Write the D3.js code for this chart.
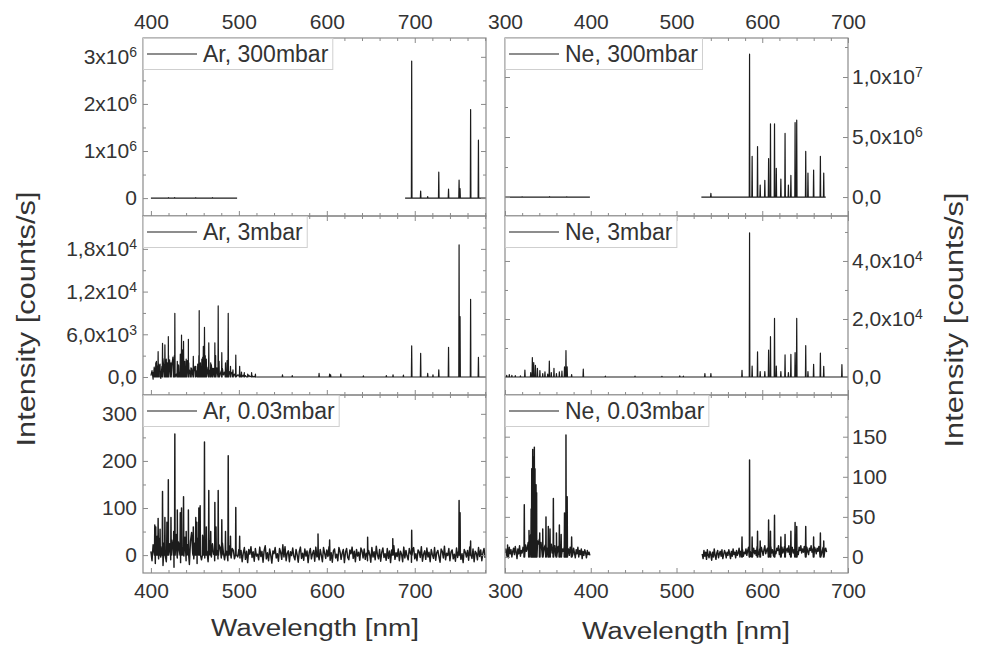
<!DOCTYPE html>
<html>
<head>
<meta charset="utf-8">
<script src="https://cdn.jsdelivr.net/npm/d3@7"></script>
<style>
body { margin: 0; background: #fff; }
text { font-family: "Liberation Sans", Arial, sans-serif; fill: #333; }
</style>
</head>
<body>
<svg id="chart" width="981" height="647"></svg>
<script>
// ---- data ----
var arRange = [391, 781], neRange = [300, 700];
var arXTicks = [400, 500, 600, 700], neXTicks = [300, 400, 500, 600, 700];

// Ar, 300 mbar  [nm, counts/s]
var ar300Segments = [[400, 498], [689, 781]];
var ar300Peaks = [[420, 1e4], [427, 1.2e4], [451, 8e3], [470, 1e4],
    [696.5, 2.91e6], [706.7, 0.15e6], [714.7, 0.03e6], [727.3, 0.55e6], [738.4, 0.19e6],
    [750.4, 0.38e6], [751.5, 0.2e6], [763.5, 1.88e6], [772.4, 1.23e6]];
var ar300YTicks = [0, 1e6, 2e6, 3e6];
var ar300YLabels = ["0", "1x10^6", "2x10^6", "3x10^6"];

// Ar, 3 mbar
var ar3Segments = [[400, 520], [520, 781]];
var ar3Peaks = [[402.5, 600], [404.4, 1200], [405.5, 2000], [407.2, 1500], [408.2, 3560], [410.4, 1800],
    [413.2, 4730], [415.9, 4500], [417.5, 2500], [418.2, 2000], [419.8, 5670], [420.1, 3000],
    [422.8, 2000], [425.9, 2500], [426.6, 3000], [427.2, 8950], [430, 2200], [431.5, 1600],
    [433.4, 3200], [434.8, 5900], [435.5, 2600], [436.2, 3800], [437.1, 5000], [438.5, 2200],
    [440.1, 2500], [442.6, 5300], [443, 2000], [445.5, 1300], [448.2, 2900], [451, 1500],
    [453.2, 1800], [454.5, 3000], [454.9, 9320], [456.3, 2000], [457.9, 2500], [458.9, 2800],
    [459.6, 4300], [460.9, 6980], [461.8, 3000], [463, 2500], [465.8, 4800], [468, 2000],
    [470.2, 1200], [472.7, 4800], [473.6, 3000], [476.5, 9980], [477.5, 2200], [480.6, 3420],
    [484.8, 2000], [486.6, 2300], [487.9, 8950], [490.5, 1500], [493.3, 1000], [496.5, 3090],
    [500.9, 1500], [503, 700], [506.2, 600], [510, 400], [514.5, 600], [518.8, 400],
    [549.6, 300], [560.7, 200], [591.2, 500], [603.2, 400], [604.3, 300], [615.9, 400],
    [641.6, 150], [667.7, 200], [675.3, 300], [687.1, 250],
    [696.5, 4360], [706.7, 3330], [714.7, 500], [720.7, 300], [727.3, 1000], [738.4, 4170],
    [750.4, 18550], [751.5, 8470], [763.5, 10900], [772.4, 2770]];
var ar3NoiseStart = 400, ar3NoiseStep = 1.25;
var ar3Noise = [200, 900, -300, 1400, 600, 2200, 300, 1800, 800, -200, 1500, 2600, 700, 1200, 300,
    2000, 1000, 2400, 500, 1600, 2800, 900, 1300, 400, 2100, 1700, 600, 2500, 1100, 300, 1900, 800,
    1400, 2300, 600, 1000, 400,
    1200, 300, 800, 1500, 200, 900, 1300, 500, 1800, 700, 1100, 400, 1600, 900, 300, 1400, 600,
    1000, 1700, 500, 1200, 800, 300, 1300, 600, 1000, 400, 900, 1200, 300, 700, 1000, 200, 600,
    800, 300, 500, 700, 200, 400, 600, 100, 300, 200,
    150, 300, 50, 250, 100, 200, 0, 150, 250, 50, 100, 200, 0, 100, 50, 0];
var ar3YTicks = [0, 6000, 12000, 18000];
var ar3YLabels = ["0,0", "6,0x10^3", "1,2x10^4", "1,8x10^4"];

// Ar, 0.03 mbar
var ar003Segments = [[400, 781]];
var ar003Peaks = [[404.4, 64], [405.5, 60], [407.2, 40], [408.2, 78], [410.4, 55], [413.2, 135],
    [415.9, 80], [418.2, 70], [419.8, 160], [422.8, 80], [425.9, 50], [427.2, 257], [430, 96],
    [433.4, 90], [434.8, 100], [437.1, 124], [440.1, 50], [442.6, 96], [448.2, 60], [451, 80],
    [452.2, 70], [454.5, 100], [456, 105], [458.9, 40], [460.9, 240], [463, 60], [465.8, 137],
    [468, 50], [472.7, 112], [474, 60], [476.5, 137], [480.6, 75], [484.8, 50], [487.9, 211],
    [490.5, 40], [496.5, 101], [500.9, 40], [590, 45], [603.2, 32], [646.4, 38], [675, 35],
    [696.5, 53], [750.4, 116], [751.5, 90], [763.5, 30]];
var ar003NoiseStart = 400, ar003NoiseStep = 1.25;
var ar003Noise = [8, -12, 22, 4, -18, 30, 12, -8, 36, -4, 18, -22, 26, 10, -14, 40, 2, 24, -10, 32,
    14, -26, 20, 44, -6, 28, 8, -16, 34, 16, -2, 38, -12, 22, 6, -20, 30, 48, 4, -8,
    26, 12, -18, 36, 0, 20, -10, 42, 14, -6, 28, 8, -14, 32, 18, -4, 24, 2, -12, 30,
    10, -8, 22, 16, -6, 26, 4, -10, 18, 8, -12, 20, 2, -6, 14, 10, -8, 16, 0, -4, 12,
    -6, 10, -14, 4, 16, -9, 8, -16, 12, 2, 18, -5, 7, -13, 14, -2,
    2, -10, 17, -3, 8, -15, 10, 20, -8, 5, -12, 13, 0, -17, 9, 3,
    16, -6, 3, -13, 14, 6, -9, 22, -4, 18, -12, 4, 9, -14, 7, -1,
    15, -3, -10, 12, 1, -15, 8, 17, -7, 4, -11, 13, -2, 9, -16, 5,
    14, -8, 3, 10, -13, 17, -4, 24, -10, 12, 0, -14, 16, 4, -7, 11,
    -3, 18, -11, 5, -15, 9, 13, -6, 2, -12, 16, 8, -9, 4, 12, -16,
    6, 14, -5, -10, 11, 3, 17, -7, 8, -14, 12, -2, 6, -11, 15, 9,
    -6, 13, -9, 4, -12, 10, 2, -15, 16, -4, 7, -10, 19, 1, -8, 12,
    -13, 6, 15, -5, 3, -11, 14, -7, 9, -16, 11, 0, 20, -9, 5, -3,
    13, -12, 8, 2, -14, 17, -6, 10, -2, -10, 14, 4, -15, 9, 16, -8,
    3, -12, 11, 7, -5, 18, -13, 2, 9, -9, 15, -4, 6, -14, 12, 1,
    -7, 16, -11, 5, 10, -3, -15, 13, 8, -6, 19, -10, 4, -1, 14, -12,
    7, 11, -8, 2, -13, 15, -5, 9, 21, -9, 3, -16, 12, 6, -4, 10,
    -11, 17, 0, -7, 13, -14, 8, 4, -10, 16, -3, 11, -12, 5, 14, -6];
var ar003YTicks = [0, 100, 200, 300];
var ar003YLabels = ["0", "100", "200", "300"];

// Ne, 300 mbar
var ne300Segments = [[300, 399], [529, 674]];
var ne300Peaks = [[320, 2e4], [352, 3e4], [372, 2e4], [540.1, 0.3e6],
    [585.2, 11.9e6], [588.2, 3.4e6], [594.5, 4.2e6], [597.6, 1.0e6], [603.0, 1.4e6], [607.4, 3.2e6],
    [609.6, 6.1e6], [614.3, 6.1e6], [616.4, 2.4e6], [621.7, 1.5e6], [626.6, 5.3e6], [630.5, 1.0e6],
    [633.4, 1.8e6], [638.3, 6.2e6], [640.2, 6.4e6], [650.7, 3.8e6], [653.3, 2.0e6], [659.9, 2.25e6],
    [667.8, 3.4e6], [671.7, 2.0e6]];
var ne300YTicks = [0, 5e6, 1e7];
var ne300YLabels = ["0,0", "5,0x10^6", "1,0x10^7"];

// Ne, 3 mbar
var ne3Segments = [[300, 700]];
var ne3Peaks = [[302, 600], [305, 800], [308, 600], [312, 500], [318, 400], [323.2, 2400], [330, 1500],
    [331.9, 6700], [333.5, 5000], [335.5, 4000], [337.8, 3000], [340.7, 2200], [344, 1200],
    [346.6, 1800], [349.8, 1000], [351.7, 5500], [354, 1500], [357.1, 3000], [360, 1200],
    [363.4, 1800], [366.4, 2000], [369.4, 3500], [371.1, 9100], [372.5, 3500], [377.7, 800],
    [391.3, 2700], [417, 300], [451.6, 300], [483, 250], [503.8, 400], [508, 300], [533.1, 1200],
    [540.1, 1200], [576.4, 2300], [585.2, 49700], [588.2, 3800], [594.5, 8700], [597.6, 1900],
    [603, 1900], [607.4, 9300], [609.6, 13900], [614.3, 20200], [616.4, 3800], [621.7, 1900],
    [626.6, 7600], [630.5, 1500], [633.4, 7800], [638.3, 8400], [640.2, 20200], [650.7, 10800],
    [653.3, 1900], [659.9, 4400], [667.8, 8200], [671.7, 3700], [692.9, 4250]];
var ne3YTicks = [0, 2e4, 4e4];
var ne3YLabels = ["0,0", "2,0x10^4", "4,0x10^4"];

// Ne, 0.03 mbar
var ne003Segments = [[300, 399], [530, 675]];
var ne003Peaks = [[303, 15], [322.5, 65], [328, 33], [330.5, 60], [331.2, 110], [332.3, 134],
    [333, 125], [333.5, 120], [334.2, 137], [335, 110], [335.5, 84], [336.2, 90], [336.9, 80],
    [340.5, 30], [344, 35], [347.8, 50], [350.5, 38], [352.5, 35], [356.4, 73], [360, 30],
    [363.4, 40], [365.5, 28], [369.4, 55], [371.1, 152], [372.5, 75], [377.7, 25],
    [576.4, 25], [585.2, 121], [588.2, 25], [594.5, 32], [597.6, 20], [607.4, 46], [609.6, 32],
    [614.3, 52], [621.7, 25], [626.6, 28], [633.4, 32], [638.3, 43], [640.2, 38], [650.7, 38],
    [659.9, 25], [667.8, 30], [671.7, 20]];
var ne003NoiseStep = 1;
var ne003NoiseA = [5, 10, 2, 8, -1, 12, 4, 9, 0, 7,
    11, 3, 13, 6, -2, 10, 4, 14, 1, 8,
    5, 12, 9, 3, 15, 7, 11, 18, 14, 22,
    28, 35, 30, 40, 32, 26, 34, 24, 20, 16,
    22, 12, 18, 8, 14, 6, 12, 15, 4, 11,
    7, 13, 3, 10, 16, 5, 12, 8, 14, 2,
    11, 6, 13, 4, 9, 15, 3, 10, 7, 12,
    14, 8, 16, 5, 10, 2, 12, 7, 9, 3,
    11, 5, -1, 9, 4, 12, 0, 8, 3, 10,
    -2, 7, 2, 9, 5, -1, 8, 3, 6, 2];
var ne003NoiseB = [4, -2, 8, 1, 6, -3, 9, 2, -1, 7,
    3, -4, 6, 0, 10, 2, -3, 5, 8, -1,
    4, 7, 1, 9, -2, 3, 8, 5, -1, 6,
    2, 9, 4, -2, 7, 1, 10, 3, 6, -1,
    8, 2, 5, 11, 0, 7, 3, 9, 1, 6,
    4, 10, 2, 8, 12, 3, 7, 1, 9, 5,
    11, 4, 8, 2, 13, 6, 3, 10, 5, 12,
    7, 2, 9, 14, 4, 8, 11, 3, 10, 6,
    13, 5, 9, 2, 12, 7, 4, 11, 8, 14,
    3, 10, 6, 12, 5, 9, 13, 4, 8, 11,
    6, 14, 3, 10, 7, 12, 5, 9, 13, 4,
    11, 7, 3, 12, 8, 14, 5, 10, 6, 13,
    4, 9, 12, 7, 3, 11, 8, 14, 6, 10,
    5, 12, 9, 4, 11, 7, 13, 6, 10, 3,
    8, 12, 5, 9, 11, 6];
var ne003YTicks = [0, 50, 100, 150];
var ne003YLabels = ["0", "50", "100", "150"];

// ---- layout ----
var svg = d3.select("#chart");
var cols = [
    {x0: 143, x1: 486, domain: arRange, ticks: arXTicks},
    {x0: 505, x1: 848, domain: neRange, ticks: neXTicks}
];
var rows = [[38, 216], [216, 395], [395, 573]];
var frameColor = "#8a8a8a", lineColor = "#1c1c1c";

var panels = [
    {col: 0, row: 0, name: "Ar, 300mbar", segs: ar300Segments, peaks: ar300Peaks, yDom: [-0.38e6, 3.4e6], yTicks: ar300YTicks, yLabels: ar300YLabels},
    {col: 0, row: 1, name: "Ar, 3mbar", segs: ar3Segments, peaks: ar3Peaks, yDom: [-2530, 22620], yTicks: ar3YTicks, yLabels: ar3YLabels,
        noise: [{start: ar3NoiseStart, step: ar3NoiseStep, values: ar3Noise}]},
    {col: 0, row: 2, name: "Ar, 0.03mbar", segs: ar003Segments, peaks: ar003Peaks, yDom: [-38, 340], yTicks: ar003YTicks, yLabels: ar003YLabels,
        noise: [{start: ar003NoiseStart, step: ar003NoiseStep, values: ar003Noise}], width: 1.45},
    {col: 1, row: 0, name: "Ne, 300mbar", segs: ne300Segments, peaks: ne300Peaks, yDom: [-1.58e6, 13.25e6], yTicks: ne300YTicks, yLabels: ne300YLabels},
    {col: 1, row: 1, name: "Ne, 3mbar", segs: ne3Segments, peaks: ne3Peaks, yDom: [-6200, 55500], yTicks: ne3YTicks, yLabels: ne3YLabels},
    {col: 1, row: 2, name: "Ne, 0.03mbar", segs: ne003Segments, peaks: ne003Peaks, yDom: [-20, 202], yTicks: ne003YTicks, yLabels: ne003YLabels,
        noise: [{start: 300, step: ne003NoiseStep, values: ne003NoiseA}, {start: 530, step: ne003NoiseStep, values: ne003NoiseB}], width: 1.45}
];

// one segment of a spectrum: baseline (flat or noisy) plus narrow line peaks
function segPoints(seg, peaks, noise) {
    var hw = 0.35, pts = [];
    var nz = noise && noise.filter(n => n.start >= seg[0] - 1 && n.start < seg[1])[0];
    if (nz) {
        nz.values.forEach(function (v, i) {
            var xv = nz.start + i * nz.step;
            if (xv >= seg[0] && xv <= seg[1]) pts.push([xv, v]);
        });
    } else {
        pts.push([seg[0], 0], [seg[1], 0]);
    }
    peaks.forEach(function (p) {
        if (p[0] > seg[0] && p[0] < seg[1])
            pts.push([p[0] - hw, 0], [p[0], p[1]], [p[0] + hw, 0]);
    });
    pts.sort((a, b) => a[0] - b[0]);
    return pts;
}

function supLabels(sel) {
    sel.selectAll("text").each(function () {
        var t = d3.select(this), s = t.text();
        if (s.indexOf("^") < 0) return;
        var parts = s.split("^");
        t.text(null);
        t.append("tspan").text(parts[0]);
        t.append("tspan").attr("dy", "-0.5em").attr("font-size", "14px").text(parts[1]);
    });
}

function styleAxis(g) {
    g.select(".domain").remove();
    g.selectAll("line").attr("stroke", frameColor);
    g.selectAll("text").attr("fill", "#383838").attr("font-size", 21)
        .attr("font-family", '"Liberation Sans", Arial, sans-serif');
}

panels.forEach(function (p, k) {
    var c = cols[p.col], r = rows[p.row];
    var x = d3.scaleLinear().domain(c.domain).range([c.x0, c.x1]);
    var y = d3.scaleLinear().domain(p.yDom).range([r[1], r[0]]);
    var g = svg.append("g");

    g.append("clipPath").attr("id", "clip" + k)
        .append("rect").attr("x", c.x0).attr("y", r[0]).attr("width", c.x1 - c.x0).attr("height", r[1] - r[0]);

    // spectrum
    var line = d3.line().x(d => x(d[0])).y(d => y(d[1]));
    g.append("g").attr("clip-path", "url(#clip" + k + ")")
        .selectAll("path").data(p.segs.map(s => segPoints(s, p.peaks, p.noise)))
        .enter().append("path")
        .attr("d", line)
        .attr("fill", "none").attr("stroke", lineColor).attr("stroke-width", p.width || 1.2)
        .attr("stroke-linejoin", "round");

    // frame
    g.append("rect").attr("x", c.x0).attr("y", r[0]).attr("width", c.x1 - c.x0).attr("height", r[1] - r[0])
        .attr("fill", "none").attr("stroke", frameColor).attr("stroke-width", 1.2);

    // x axes (ticks inward)
    var xMinor = d3.range(Math.ceil(c.domain[0] / 20) * 20, c.domain[1], 20).filter(v => v % 100 != 0);
    var fmtX = d => String(d);
    g.append("g").attr("transform", "translate(0," + r[1] + ")")
        .call(d3.axisBottom(x).tickValues(c.ticks).tickSize(-5).tickPadding(10)
            .tickFormat(p.row == 2 ? fmtX : () => "")).call(styleAxis);
    g.append("g").attr("transform", "translate(0," + r[1] + ")")
        .call(d3.axisBottom(x).tickValues(xMinor).tickSize(-3).tickFormat("")).call(styleAxis);
    g.append("g").attr("transform", "translate(0," + r[0] + ")")
        .call(d3.axisTop(x).tickValues(c.ticks).tickSize(-5).tickPadding(9)
            .tickFormat(p.row == 0 ? fmtX : () => "")).call(styleAxis);
    g.append("g").attr("transform", "translate(0," + r[0] + ")")
        .call(d3.axisTop(x).tickValues(xMinor).tickSize(-3).tickFormat("")).call(styleAxis);

    // y axes
    var step = p.yTicks[1] - p.yTicks[0];
    var yMinor = p.yTicks.map(v => v + step / 2).concat([p.yTicks[0] - step / 2])
        .filter(v => v > p.yDom[0] && v < p.yDom[1]);
    var fmtY = (d, i) => p.yLabels[i];
    var lab = p.col == 0;
    g.append("g").attr("transform", "translate(" + c.x0 + ",0)")
        .call(d3.axisLeft(y).tickValues(p.yTicks).tickSize(-5).tickPadding(6)
            .tickFormat(lab ? fmtY : () => "")).call(styleAxis).call(supLabels);
    g.append("g").attr("transform", "translate(" + c.x0 + ",0)")
        .call(d3.axisLeft(y).tickValues(yMinor).tickSize(-3).tickFormat("")).call(styleAxis);
    g.append("g").attr("transform", "translate(" + c.x1 + ",0)")
        .call(d3.axisRight(y).tickValues(p.yTicks).tickSize(-5).tickPadding(4)
            .tickFormat(!lab ? fmtY : () => "")).call(styleAxis).call(supLabels);
    g.append("g").attr("transform", "translate(" + c.x1 + ",0)")
        .call(d3.axisRight(y).tickValues(yMinor).tickSize(-3).tickFormat("")).call(styleAxis);

    // legend box
    var lg = g.append("g");
    var box = lg.append("rect").attr("x", c.x0 + 0.5).attr("y", r[0] + 0.5).attr("height", 31)
        .attr("fill", "#fff").attr("stroke", "#cfcfcf");
    lg.append("line").attr("x1", c.x0 + 4).attr("x2", c.x0 + 54)
        .attr("y1", r[0] + 16).attr("y2", r[0] + 16)
        .attr("stroke", lineColor).attr("stroke-width", 1.2);
    var lt = lg.append("text").attr("x", c.x0 + 60).attr("y", r[0] + 24)
        .attr("font-size", 23).text(p.name);
    box.attr("width", 60 + lt.node().getComputedTextLength() + 4);
});

// axis titles
svg.append("text").attr("transform", "translate(35,319) rotate(-90)")
    .attr("text-anchor", "middle").attr("font-size", 25)
    .attr("textLength", 255).attr("lengthAdjust", "spacingAndGlyphs")
    .text("Intensity [counts/s]");
svg.append("text").attr("transform", "translate(963,320) rotate(-90)")
    .attr("text-anchor", "middle").attr("font-size", 25)
    .attr("textLength", 255).attr("lengthAdjust", "spacingAndGlyphs")
    .text("Intensity [counts/s]");
svg.append("text").attr("x", 315).attr("y", 636)
    .attr("text-anchor", "middle").attr("font-size", 23)
    .attr("textLength", 208).attr("lengthAdjust", "spacingAndGlyphs")
    .text("Wavelength [nm]");
svg.append("text").attr("x", 686).attr("y", 639)
    .attr("text-anchor", "middle").attr("font-size", 23)
    .attr("textLength", 208).attr("lengthAdjust", "spacingAndGlyphs")
    .text("Wavelength [nm]");
</script>
</body>
</html>
